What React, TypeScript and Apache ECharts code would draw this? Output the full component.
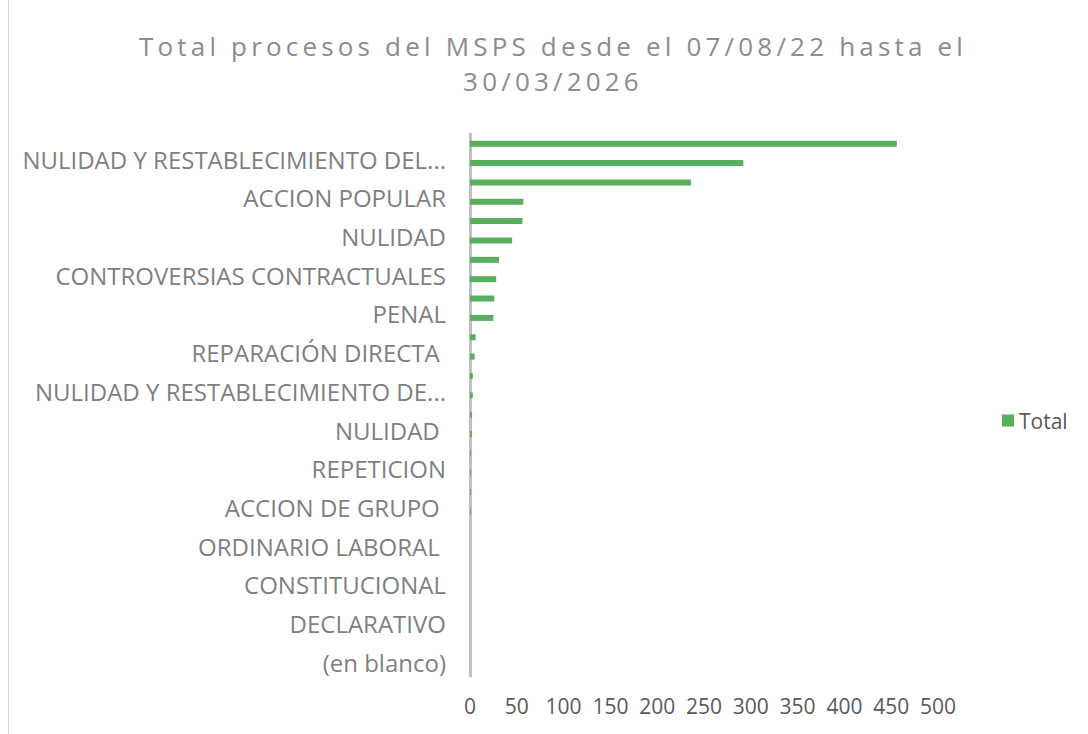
import React, { useEffect, useRef } from "react";
import * as echarts from "echarts";

// Categories listed from the bottom of the chart to the top (Excel order)
const categories: string[] = [
  "(en blanco)",
  "VERBAL SUMARIO",
  "DECLARATIVO",
  "PROCESO DE INSOLVENCIA",
  "CONSTITUCIONAL",
  "RESTITUCION DE TIERRAS",
  "ORDINARIO LABORAL ",
  "FUERO SINDICAL",
  "ACCION DE GRUPO ",
  "CONCILIACION",
  "REPETICION",
  "ACCION DE TUTELA",
  "NULIDAD ",
  "EJECUTIVO LABORAL",
  "NULIDAD Y RESTABLECIMIENTO DE...",
  "NULIDAD ELECTORAL",
  "REPARACIÓN DIRECTA ",
  "VERBAL",
  "PENAL",
  "ACCION DE CUMPLIMIENTO",
  "CONTROVERSIAS CONTRACTUALES",
  "ACCION DE GRUPO",
  "NULIDAD",
  "EJECUTIVO",
  "ACCION POPULAR",
  "ORDINARIO LABORAL",
  "NULIDAD Y RESTABLECIMIENTO DEL...",
  "REPARACION DIRECTA",
];

const totals: number[] = [
  0, 0, 0, 0, 0, 0, 0, 0,
  1, 1, 1, 1,
  2, 2, 3, 3, 5, 6,
  25, 26, 28, 31, 45, 56, 57, 236, 292, 456,
];

const xTicks = { min: 0, max: 500, interval: 50 };

const titleLine1 = "Total procesos del MSPS desde el 07/08/22 hasta el";
const titleLine2 = "30/03/2026";

export default function App() {
  const ref = useRef<HTMLDivElement>(null);

  useEffect(() => {
    if (!ref.current) return;
    const el = ref.current;
    const chart = echarts.init(el, undefined, { renderer: "svg" });
    const catLabelStyle = {
      fontFamily: "Open Sans",
      fontSize: 24,
      color: "#7f7f7f",
    };
    chart.setOption({
      animation: false,
      backgroundColor: "#ffffff",
      title: {
        text: titleLine1 + "\n" + titleLine2,
        left: 548,
        textAlign: "center",
        top: 23,
        textStyle: {
          fontFamily: "Open Sans",
          fontWeight: "normal",
          fontSize: 26,
          lineHeight: 35,
          color: "#8c8c8c",
        },
      },
      legend: {
        show: true,
        orient: "vertical",
        left: 997,
        top: 405,
        icon: "rect",
        itemWidth: 12,
        itemHeight: 12,
        itemGap: 6,
        textStyle: {
          fontFamily: "Open Sans",
          fontSize: 21,
          color: "#595959",
        },
        data: ["Total"],
      },
      grid: {
        left: 470,
        right: 150,
        top: 134,
        bottom: 58,
        containLabel: false,
      },
      xAxis: {
        type: "value",
        min: xTicks.min,
        max: xTicks.max,
        interval: xTicks.interval,
        axisLine: { show: false },
        axisTick: { show: false },
        splitLine: { show: false },
        axisLabel: {
          margin: 19,
          fontFamily: "Open Sans",
          fontSize: 21,
          color: "#595959",
        },
      },
      yAxis: {
        type: "category",
        data: categories,
        axisTick: { show: false },
        axisLine: {
          show: true,
          lineStyle: { color: "#bfbfbf", width: 3 },
        },
        axisLabel: {
          interval: 1,
          margin: 24,
          ...catLabelStyle,
          formatter: (v: string) => "{c|" + v + "}",
          rich: {
            c: { ...catLabelStyle, padding: [0, 0, 8, 0] },
          },
        },
      },
      series: [
        {
          name: "Total",
          type: "bar",
          data: totals,
          barWidth: 6,
          itemStyle: { color: "#5aae60" },
        },
      ],
      graphic: [
        {
          type: "rect",
          shape: { x: 8.5, y: -2, width: 1090, height: 740 },
          style: { fill: "none", stroke: "#d9d9d9", lineWidth: 1 },
          silent: true,
        },
      ],
    });

    // Excel-style tracked title: widen the letter spacing of the title lines
    const applySpacing = () => {
      const texts = Array.from(el.querySelectorAll("text")) as SVGTextElement[];
      const t1 = texts.find((t) => (t.textContent || "").trim() === titleLine1);
      const t2 = texts.find((t) => (t.textContent || "").trim() === titleLine2);
      if (!t1) return;
      t1.style.letterSpacing = "0px";
      const w = t1.getComputedTextLength();
      const target = 828;
      const s = Math.max(0, (target - w) / titleLine1.length);
      t1.style.letterSpacing = s + "px";
      if (t2) t2.style.letterSpacing = s + "px";
    };
    applySpacing();
    chart.on("finished", applySpacing);

    return () => chart.dispose();
  }, []);

  return (
    <div
      ref={ref}
      style={{ position: "absolute", left: 0, top: 0, width: 1088, height: 734 }}
    />
  );
}
